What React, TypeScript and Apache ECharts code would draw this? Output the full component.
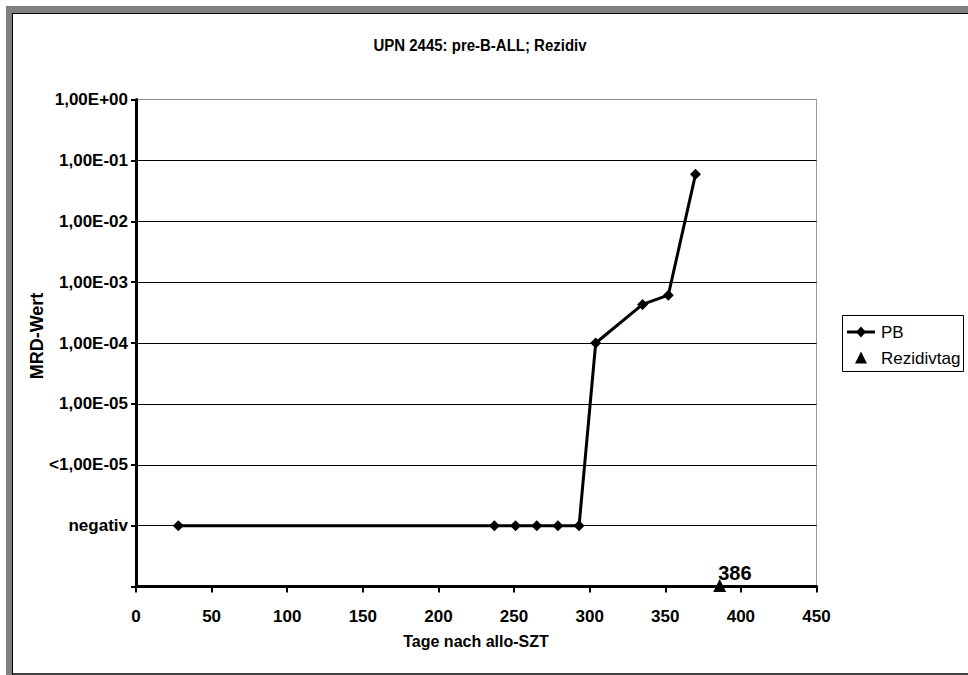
import React, { useEffect, useRef } from "react";
import * as echarts from "echarts";

// MRD follow-up after allogeneic stem cell transplantation
const titleText = "UPN 2445: pre-B-ALL; Rezidiv";
const pbDays = [28, 237, 251, 265, 279, 293, 304, 335, 352, 370];
// 0 stands for a negative result ("negativ")
const pbMrd = [0, 0, 0, 0, 0, 0, 1.0e-4, 4.3e-4, 6.1e-4, 5.9e-2];
const relapseDays = [386];
const yTickLabels = [
  "",
  "negativ",
  "<1,00E-05",
  "1,00E-05",
  "1,00E-04",
  "1,00E-03",
  "1,00E-02",
  "1,00E-01",
  "1,00E+00",
];
const seriesNames = ["PB", "Rezidivtag"];
const xAxisTitle = "Tage nach allo-SZT";
const yAxisTitle = "MRD-Wert";

// position on the level scale: negativ = 1, 1E-05 = 3 ... 1E+00 = 8
const toLevel = (v: number) => (v === 0 ? 1 : 8 + Math.log10(v));

const FONT = "'Liberation Sans', Arial, sans-serif";

export default function App() {
  const ref = useRef<HTMLDivElement>(null);

  useEffect(() => {
    if (!ref.current) return;
    const chart = echarts.init(ref.current, undefined, { renderer: "svg" });
    const gridColors = yTickLabels.map((_, i) =>
      i === yTickLabels.length - 1 ? "#8c8c8c" : "#000"
    );

    // legend box drawn by hand
    const lgX = 842.5;
    const lgY = 315.5;
    const row1 = 332;
    const row2 = 358;
    const iconCx = 861;
    const legendGraphics = [
      {
        type: "rect",
        shape: { x: lgX, y: lgY, width: 121, height: 56 },
        style: { fill: "#fff", stroke: "#000", lineWidth: 1 },
        z: 10,
      },
      {
        type: "line",
        shape: { x1: 847, y1: row1, x2: 875, y2: row1 },
        style: { stroke: "#000", lineWidth: 3 },
        z: 11,
      },
      {
        type: "polygon",
        shape: {
          points: [
            [iconCx, row1 - 5.5],
            [iconCx + 5, row1],
            [iconCx, row1 + 5.5],
            [iconCx - 5, row1],
          ],
        },
        style: { fill: "#000" },
        z: 12,
      },
      {
        type: "polygon",
        shape: {
          points: [
            [iconCx, row2 - 6.5],
            [iconCx + 6, row2 + 5.5],
            [iconCx - 6, row2 + 5.5],
          ],
        },
        style: { fill: "#000" },
        z: 12,
      },
      {
        type: "text",
        x: 881,
        y: row1,
        style: {
          text: seriesNames[0],
          fontFamily: FONT,
          fontSize: 17,
          fill: "#000",
          align: "left",
          verticalAlign: "middle",
        },
        z: 12,
      },
      {
        type: "text",
        x: 881,
        y: row2,
        style: {
          text: seriesNames[1],
          fontFamily: FONT,
          fontSize: 17,
          fill: "#000",
          align: "left",
          verticalAlign: "middle",
        },
        z: 12,
      },
    ];

    chart.setOption({
      animation: false,
      backgroundColor: "#fff",
      textStyle: { fontFamily: FONT },
      grid: {
        left: 136,
        right: 151.5,
        top: 99.5,
        bottom: 88.5,
        show: true,
        borderColor: "#9a9a9a",
        borderWidth: 1,
        backgroundColor: "#fff",
      },
      xAxis: {
        type: "value",
        min: 0,
        max: 450,
        interval: 50,
        axisLine: { show: true, onZero: false, lineStyle: { color: "#000", width: 3 } },
        axisTick: { show: true, length: 6, lineStyle: { color: "#000", width: 2 } },
        splitLine: { show: false },
        axisLabel: {
          margin: 21,
          fontFamily: FONT,
          fontSize: 17,
          fontWeight: "bold",
          color: "#000",
        },
      },
      yAxis: {
        type: "value",
        min: 0,
        max: yTickLabels.length - 1,
        interval: 1,
        axisLine: { show: true, onZero: false, lineStyle: { color: "#000", width: 3 } },
        axisTick: { show: true, length: 5, lineStyle: { color: "#000", width: 2 } },
        splitLine: { show: true, lineStyle: { color: gridColors, width: 1 } },
        axisLabel: {
          margin: 8,
          fontFamily: FONT,
          fontSize: 17,
          fontWeight: "bold",
          color: "#000",
          formatter: (v: number) => yTickLabels[Math.round(v)] ?? "",
        },
      },
      graphic: [
        // window frame: grey band on top and left, black inner edges
        { type: "rect", shape: { x: 6, y: 6, width: 962, height: 7 }, style: { fill: "#808080" }, silent: true },
        { type: "rect", shape: { x: 6, y: 6, width: 6, height: 669 }, style: { fill: "#808080" }, silent: true },
        { type: "line", shape: { x1: 12, y1: 13.5, x2: 968, y2: 13.5 }, style: { stroke: "#000", lineWidth: 1 }, silent: true },
        { type: "line", shape: { x1: 12.5, y1: 13, x2: 12.5, y2: 675 }, style: { stroke: "#000", lineWidth: 1 }, silent: true },
        { type: "line", shape: { x1: 12, y1: 674, x2: 968, y2: 674 }, style: { stroke: "#000", lineWidth: 1.5 }, silent: true },
        {
          type: "text",
          x: 480,
          y: 45,
          scaleY: 1.12,
          style: {
            text: titleText,
            fontFamily: FONT,
            fontSize: 15,
            fontWeight: "bold",
            fill: "#000",
            align: "center",
            verticalAlign: "middle",
          },
        },
        {
          type: "text",
          x: 37,
          y: 336,
          rotation: Math.PI / 2,
          style: {
            text: yAxisTitle,
            fontFamily: FONT,
            fontSize: 18,
            fontWeight: "bold",
            fill: "#000",
            align: "center",
            verticalAlign: "middle",
          },
        },
        {
          type: "text",
          x: 476,
          y: 641,
          style: {
            text: xAxisTitle,
            fontFamily: FONT,
            fontSize: 16,
            fontWeight: "bold",
            fill: "#000",
            align: "center",
            verticalAlign: "middle",
          },
        },
        ...legendGraphics,
      ],
      series: [
        {
          name: seriesNames[0],
          type: "line",
          data: pbDays.map((d, i) => [d, toLevel(pbMrd[i])]),
          symbol: "diamond",
          symbolSize: 11,
          color: "#000",
          itemStyle: { color: "#000", opacity: 1 },
          lineStyle: { color: "#000", width: 3 },
          z: 5,
        },
        {
          name: seriesNames[1],
          type: "scatter",
          data: relapseDays.map((d) => [d, 0]),
          symbol: "triangle",
          symbolSize: [13, 13],
          symbolOffset: [0, -1],
          color: "#000",
          itemStyle: { color: "#000", opacity: 1 },
          clip: false,
          z: 6,
          label: {
            show: true,
            formatter: (p: any) => String(p.value[0]),
            position: [5, -16],
            align: "left",
            verticalAlign: "top",
            fontFamily: FONT,
            fontSize: 20,
            fontWeight: "bold",
            color: "#000",
            opacity: 1,
          },
        },
      ],
    });

    return () => chart.dispose();
  }, []);

  return (
    <div
      ref={ref}
      style={{ position: "absolute", left: 0, top: 0, width: 968, height: 675 }}
    />
  );
}
